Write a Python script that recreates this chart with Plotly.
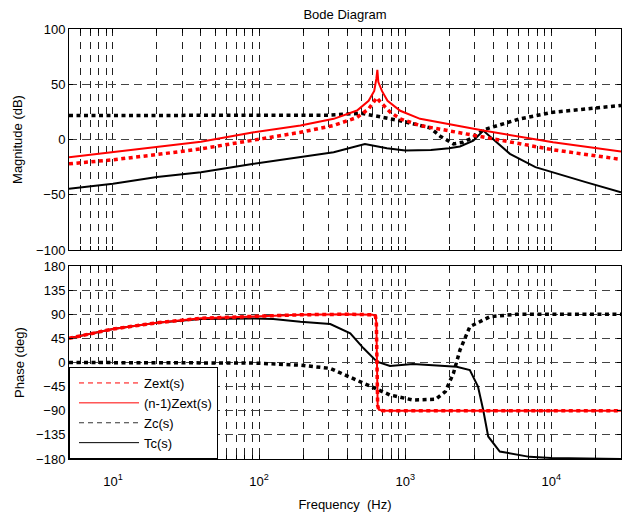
import numpy as np
import plotly.graph_objects as go

# ---------------- data ----------------
# Magnitude (dB)
f_zext_mag = [5, 10, 20, 40, 92, 192, 324, 468, 562, 614, 640, 665, 700, 790, 925, 1265, 1480, 3420, 10280, 30000]
zext_mag = [-22, -18.4, -13.6, -8.5, -0.5, 6.5, 12.7, 20, 27.7, 34, 38, 35, 32, 24.7, 18.7, 12.7, 11, 2.1, -9.3, -18]

f_nzext_mag = [5, 10, 20, 40, 92, 192, 324, 468, 562, 614, 635, 645, 655, 693, 757, 925, 1265, 1480, 3420, 10280, 30000]
nzext_mag = [-16, -11.5, -7, -2, 6.6, 12.7, 18.7, 26.2, 35, 44, 55, 63, 52, 44, 35, 26, 18.7, 17, 8.1, -2.4, -10.9]

f_zc_mag = [5, 50, 192, 300, 500, 925, 1265, 1480, 1735, 2140, 2500, 2930, 3420, 6100, 10280, 30000]
zc_mag = [21.7, 21.7, 21.7, 22, 23.8, 17, 12.7, 10.6, 3, -4, -2.4, 2.1, 8.7, 18.7, 24.7, 30.8]

f_tc_mag = [5, 10, 20, 40, 92, 192, 324, 530, 750, 1000, 1500, 2000, 2370, 2930, 3420, 5210, 7790, 17200, 30000]
tc_mag = [-44.6, -40, -34, -29.6, -22, -16, -11.5, -4, -8, -10, -9.5, -8, -6.3, -1, 8.1, -13, -25, -38.6, -47.7]

# Phase (deg)
f_zext_ph = [5, 10, 20, 40, 92, 192, 400, 600, 625, 635, 641, 648, 660, 700, 30000]
zext_ph = [45, 62.5, 74, 82.5, 86, 89, 90, 89, 87, 75, 0, -80, -88, -90, -90]

f_zc_ph = [5, 92, 192, 263, 307, 421, 575, 787, 1130, 1610, 1880, 2140, 2370, 2770, 3800, 5780, 30000]
zc_ph = [0, -1, -5, -8, -11, -27.6, -43.8, -60.6, -70, -68.7, -54.5, -20, 23, 66.8, 85.4, 90, 90]

f_tc_ph = [5, 10, 20, 40, 92, 125, 192, 263, 307, 421, 519, 641, 787, 1130, 2250, 2770, 3150, 3420, 3700, 4440, 7100, 10000, 30000]
tc_ph = [45, 62.5, 74, 81, 82, 81, 76, 73, 71.8, 54.5, 26.5, 1.5, -6.5, -2.8, -7.8, -14, -45, -88.6, -138, -166, -176, -178, -180]

legend_names = ["Zext(s)", "(n-1)Zext(s)", "Zc(s)", "Tc(s)"]
mag_ticks = [-100, -50, 0, 50, 100]
phase_ticks = [-180, -135, -90, -45, 0, 45, 90, 135, 180]
decades = [10, 100, 1000, 10000]
decade_labels = ["10<sup>1</sup>", "10<sup>2</sup>", "10<sup>3</sup>", "10<sup>4</sup>"]

# ---------------- figure ----------------
RED = "#ff0000"
BLK = "#000000"
DOT = "4px,3.5px"
FONT = "Arial, Liberation Sans, sans-serif"
FS = 13

fig = go.Figure()

def add(fx, y, color, width, dash, xa, ya):
    fig.add_trace(go.Scatter(x=fx, y=y, mode="lines", showlegend=False,
                             line=dict(color=color, width=width, dash=dash),
                             xaxis=xa, yaxis=ya, hoverinfo="skip"))

# magnitude
add(f_zc_mag, zc_mag, BLK, 3.5, DOT, "x", "y")
add(f_tc_mag, tc_mag, BLK, 2, "solid", "x", "y")
add(f_zext_mag, zext_mag, RED, 3.5, DOT, "x", "y")
add(f_nzext_mag, nzext_mag, RED, 2, "solid", "x", "y")
# phase
add(f_zc_ph, zc_ph, BLK, 3.5, DOT, "x2", "y2")
add(f_tc_ph, tc_ph, BLK, 2, "solid", "x2", "y2")
add(f_zext_ph, zext_ph, RED, 2, "solid", "x2", "y2")
add(f_zext_ph, zext_ph, RED, 3.5, DOT, "x2", "y2")

# legend entries
leg_styles = [(RED, "5px,4px"), (RED, "solid"), ("#333333", "5px,4px"), (BLK, "solid")]
for name, (c, d) in zip(legend_names, leg_styles):
    fig.add_trace(go.Scatter(x=[None], y=[None], mode="lines", name=name,
                             line=dict(color=c, width=1, dash=d),
                             xaxis="x2", yaxis="y2"))

# minor grid positions (1..9 per decade) within range
grid_vals = [m * 10 ** e for e in range(0, 5) for m in range(1, 10) if 5 <= m * 10 ** e <= 30000]
grid_text = [decade_labels[decades.index(v)] if v in decades else "" for v in grid_vals]

xcommon = dict(type="log", range=[np.log10(5), np.log10(30000)],
               tickvals=grid_vals, ticktext=grid_text,
               showgrid=True, gridcolor="#222222", gridwidth=1, griddash="7px,6px",
               showline=True, linecolor=BLK, linewidth=1, mirror="allticks",
               ticks="inside", ticklen=4, tickcolor=BLK, zeroline=False, automargin=False,
               tickfont=dict(family=FONT, size=FS, color=BLK))
ycommon = dict(showgrid=True, gridcolor="#444444", gridwidth=1, griddash="8px,5px",
               showline=True, linecolor=BLK, linewidth=1, mirror="allticks",
               ticks="inside", ticklen=4, tickcolor=BLK, zeroline=False, automargin=False,
               tickfont=dict(family=FONT, size=FS, color=BLK))

# the page body adds an 8px offset; size the figure so the plot box lands where the reference has it
OFF = 8
W, H = 630 - OFF, 515 - OFF
ML, MR, MT, MB = 69 - OFF, 9, 29 - OFF, 56
PH = H - MT - MB
top_dom = [(H - MB - (250 - OFF)) / PH, 1.0]
bot_dom = [0.0, (H - MB - (266 - OFF)) / PH]

fig.update_layout(
    width=W, height=H,
    margin=dict(l=ML, r=MR, t=MT, b=MB, autoexpand=False),
    paper_bgcolor="white", plot_bgcolor="white",
    font=dict(family=FONT, size=FS, color=BLK),
    title=dict(text="Bode Diagram", x=(345 - OFF) / W, xanchor="center", y=1 - 2 / H,
               yanchor="top", pad=dict(t=0, b=0), font=dict(family=FONT, size=FS, color=BLK)),
    xaxis=dict(xcommon, anchor="y", domain=[0, 1], showticklabels=False),
    yaxis=dict(ycommon, anchor="x", domain=top_dom, range=[-100, 100], tickvals=mag_ticks,
               title=dict(text="Magnitude (dB)", standoff=10, font=dict(family=FONT, size=FS))),
    xaxis2=dict(xcommon, anchor="y2", domain=[0, 1], matches="x", ticklabelstandoff=10,
                title=dict(text="Frequency  (Hz)", standoff=12, font=dict(family=FONT, size=FS))),
    yaxis2=dict(ycommon, anchor="x2", domain=bot_dom, range=[-180, 180], tickvals=phase_ticks,
                title=dict(text="Phase (deg)", standoff=8, font=dict(family=FONT, size=FS))),
    legend=dict(x=0, y=0, xanchor="left", yanchor="bottom", bgcolor="white",
                bordercolor=BLK, borderwidth=1, font=dict(family=FONT, size=13, color=BLK),
                itemwidth=60, indentation=4, tracegroupgap=0),
    showlegend=True,
)

fig.write_html("out.html")
